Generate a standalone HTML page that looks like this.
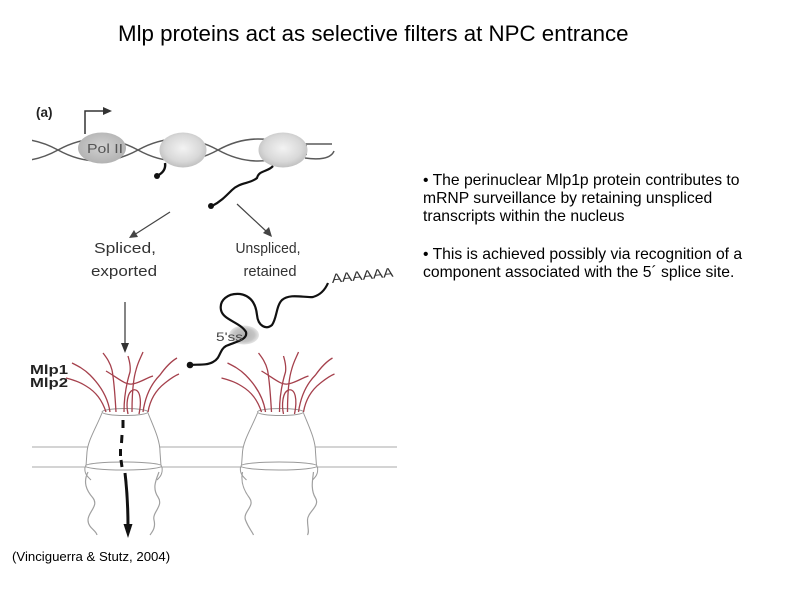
<!DOCTYPE html>
<html>
<head>
<meta charset="utf-8">
<style>
  html,body{margin:0;padding:0;background:#fff;}
  body{width:800px;height:600px;overflow:hidden;}
  svg{display:block;}
  text{font-family:"Liberation Sans", Arial, sans-serif;}
</style>
</head>
<body>
<svg width="800" height="600" viewBox="0 0 800 600" xmlns="http://www.w3.org/2000/svg">
  <defs>
    <radialGradient id="nuc" cx="50%" cy="45%" r="55%">
      <stop offset="0%" stop-color="#f3f3f3"/>
      <stop offset="70%" stop-color="#d8d8d8"/>
      <stop offset="100%" stop-color="#c0c0c0"/>
    </radialGradient>
    <radialGradient id="pol" cx="50%" cy="45%" r="55%">
      <stop offset="0%" stop-color="#d2d2d2"/>
      <stop offset="100%" stop-color="#b2b2b2"/>
    </radialGradient>
    <radialGradient id="blob" cx="50%" cy="50%" r="50%">
      <stop offset="0%" stop-color="#b0b0b0"/>
      <stop offset="70%" stop-color="#c4c4c4"/>
      <stop offset="100%" stop-color="#e6e6e6"/>
    </radialGradient>
    <clipPath id="dnaclip"><rect x="32" y="120" width="275" height="60"/></clipPath>
  </defs>

  <!-- Title -->
  <text x="118" y="41" font-size="22.3" fill="#000">Mlp proteins act as selective filters at NPC entrance</text>

  <!-- Bullet text -->
  <g font-size="15.7" fill="#000">
    <text x="423" y="185">• The perinuclear Mlp1p protein contributes to</text>
    <text x="423" y="203">mRNP surveillance by retaining unspliced</text>
    <text x="423" y="221">transcripts within the nucleus</text>
    <text x="423" y="259">• This is achieved possibly via recognition of a</text>
    <text x="423" y="277">component associated with the 5´ splice site.</text>
  </g>

  <!-- Citation -->
  <text x="12" y="561" font-size="13.2" fill="#000">(Vinciguerra &amp; Stutz, 2004)</text>

  <!-- (a) -->
  <text x="36" y="117" font-size="13.5" font-weight="bold" fill="#222">(a)</text>

  <!-- DNA double helix -->
  <g clip-path="url(#dnaclip)" fill="none" stroke="#5a5a5a" stroke-width="1.5">
    <path d="M-22,150 Q18,128 58,150 Q98,172 138,150 Q178,128 218,150 Q258,172 298,150 Q338,128 378,150"/>
    <path d="M-22,150 Q18,172 58,150 Q98,128 138,150 Q178,172 218,150 Q258,128 298,150 Q338,172 378,150"/>
  </g>
  <g fill="none" stroke="#5a5a5a" stroke-width="1.5">
    <path d="M305,144 L332,144"/>
    <path d="M305,158 C318,160 331,159 334,151"/>
  </g>

  <!-- Transcription start arrow -->
  <path d="M85,134 V111 H104" fill="none" stroke="#333" stroke-width="1.5"/>
  <polygon points="103,107 112,111 103,115" fill="#333"/>

  <!-- Pol II and nucleosomes -->
  <ellipse cx="102" cy="148" rx="24" ry="15.5" fill="url(#pol)"/>
  <text x="87" y="153" font-size="13" fill="#555" textLength="36" lengthAdjust="spacingAndGlyphs">Pol II</text>
  <ellipse cx="183" cy="150" rx="23.5" ry="17.5" fill="url(#nuc)"/>
  <ellipse cx="283" cy="150" rx="24.5" ry="17.5" fill="url(#nuc)"/>

  <!-- nascent RNAs -->
  <path d="M165,163 C166,169 163,173 157,176" fill="none" stroke="#111" stroke-width="2.4"/>
  <circle cx="157" cy="176" r="3" fill="#111"/>
  <path d="M273,166 C268,172 259,170 257,178 C250,184 240,182 232,190 C225,197 220,202 212,206" fill="none" stroke="#111" stroke-width="2.2"/>
  <circle cx="211" cy="206" r="3" fill="#111"/>

  <!-- diagonal arrows -->
  <line x1="170" y1="212" x2="134" y2="235" stroke="#444" stroke-width="1.2"/>
  <polygon points="129,238 134,230 138,237" fill="#444"/>
  <line x1="237" y1="204" x2="267" y2="232" stroke="#444" stroke-width="1.2"/>
  <polygon points="272,237 263,233 269,227" fill="#444"/>

  <!-- Labels -->
  <g font-size="15" fill="#333" text-anchor="middle">
    <text x="125" y="253" textLength="62" lengthAdjust="spacingAndGlyphs">Spliced,</text>
    <text x="124" y="276" textLength="66" lengthAdjust="spacingAndGlyphs">exported</text>
    <text x="268" y="253" textLength="65" lengthAdjust="spacingAndGlyphs">Unspliced,</text>
    <text x="270" y="276" textLength="53" lengthAdjust="spacingAndGlyphs">retained</text>
  </g>

  <!-- AAAAAA -->
  <text x="332" y="283" font-size="13" fill="#333" textLength="62" lengthAdjust="spacingAndGlyphs" transform="rotate(-6 332 283)">AAAAAA</text>

  <!-- 5'ss blob and unspliced RNA -->
  <ellipse cx="244" cy="335" rx="15" ry="9.5" fill="url(#blob)"/>
  <path d="M328,283 C325,290 320,295 313,297 C305,298 290,293 282,300 C276,306 277,318 272,325 C266,330 258,326 257,315 C256,305 252,296 240,294 C228,293 219,300 221,310 C223,320 240,322 246,332 C248,340 235,342 226,346 C219,350 221,358 213,362 C206,366 196,364 190,365" fill="none" stroke="#111" stroke-width="2.2"/>
  <circle cx="190" cy="365" r="3.3" fill="#111"/>
  <text x="216" y="341" font-size="12" fill="#444" textLength="27" lengthAdjust="spacingAndGlyphs">5'ss</text>

  <!-- vertical arrow -->
  <line x1="125" y1="302" x2="125" y2="345" stroke="#333" stroke-width="1.2"/>
  <polygon points="121,343 129,343 125,353" fill="#333"/>

  <!-- Mlp labels -->
  <text x="30" y="374" font-size="12.5" font-weight="bold" fill="#222" textLength="38" lengthAdjust="spacingAndGlyphs">Mlp1</text>
  <text x="30" y="387" font-size="12.5" font-weight="bold" fill="#222" textLength="38" lengthAdjust="spacingAndGlyphs">Mlp2</text>

  <!-- Membrane lines -->
  <line x1="32" y1="447" x2="397" y2="447" stroke="#a8a8a8" stroke-width="1"/>
  <line x1="32" y1="467" x2="397" y2="467" stroke="#a8a8a8" stroke-width="1"/>

  <!-- NPC (left) -->
  <g>
    <path d="M102,413 C96,428 88,440 87,452 L86,466 L161,466 L160,452 C160,440 154,428 148,413 Z" fill="#fff" stroke="none"/>
    <path d="M102,413 C96,428 88,440 87,452 L86,466" fill="none" stroke="#999" stroke-width="1"/>
    <path d="M148,413 C154,428 160,440 160,452 L161,466" fill="none" stroke="#999" stroke-width="1"/>
    <ellipse cx="125" cy="412" rx="23" ry="3.5" fill="#fff" stroke="#999" stroke-width="1"/>
    <ellipse cx="123.5" cy="466" rx="38" ry="4" fill="#fff" stroke="#999" stroke-width="1"/>
    <path d="M85,467 C84,474 88,477 91,480" fill="none" stroke="#999" stroke-width="1"/>
    <path d="M162,467 C163,474 160,477 157,480" fill="none" stroke="#999" stroke-width="1"/>
    <path d="M88,472 C83,482 86,490 93,498 C99,506 88,512 88,520 C88,528 96,530 97,535" fill="none" stroke="#a0a0a0" stroke-width="1.2"/>
    <path d="M159,472 C156,480 152,488 158,497 C164,506 152,512 154,520 C156,528 152,532 150,535" fill="none" stroke="#a0a0a0" stroke-width="1.2"/>
    <g fill="none" stroke="#a5404c" stroke-width="1.3">
      <path d="M110,412 C108,398 100,385 90,375 C84,369 78,366 72,363"/>
      <path d="M106,412 C102,400 96,392 86,386 C80,382 74,380 66,378"/>
      <path d="M116,412 C115,395 114,380 112,370 C110,362 106,357 103,353"/>
      <path d="M124,412 C124,400 126,385 130,372 C131,365 129,360 128,356"/>
      <path d="M132,412 C132,395 133,380 136,370 C138,362 141,357 143,352"/>
      <path d="M128,414 C126,405 127,392 133,390 C140,388 142,400 139,414"/>
      <path d="M143,412 C145,398 150,385 160,375 C165,368 170,362 177,358"/>
      <path d="M148,412 C150,400 156,390 165,383 C170,379 174,376 179,374"/>
      <path d="M106,371 C118,378 125,385 132,384 C140,383 146,378 153,376"/>
    </g>
  </g>
  <!-- NPC (right) -->
  <g transform="translate(155.5,0)">
    <path d="M102,413 C96,428 88,440 87,452 L86,466 L161,466 L160,452 C160,440 154,428 148,413 Z" fill="#fff" stroke="none"/>
    <path d="M102,413 C96,428 88,440 87,452 L86,466" fill="none" stroke="#999" stroke-width="1"/>
    <path d="M148,413 C154,428 160,440 160,452 L161,466" fill="none" stroke="#999" stroke-width="1"/>
    <ellipse cx="125" cy="412" rx="23" ry="3.5" fill="#fff" stroke="#999" stroke-width="1"/>
    <ellipse cx="123.5" cy="466" rx="38" ry="4" fill="#fff" stroke="#999" stroke-width="1"/>
    <path d="M85,467 C84,474 88,477 91,480" fill="none" stroke="#999" stroke-width="1"/>
    <path d="M162,467 C163,474 160,477 157,480" fill="none" stroke="#999" stroke-width="1"/>
    <path d="M87,472 C85,482 88,490 94,498 C100,506 87,512 90,520 C93,528 97,532 98,535" fill="none" stroke="#a0a0a0" stroke-width="1.2"/>
    <path d="M158,472 C157,480 155,490 160,498 C165,506 152,512 152,520 C152,528 154,532 152,535" fill="none" stroke="#a0a0a0" stroke-width="1.2"/>
    <g fill="none" stroke="#a5404c" stroke-width="1.3">
      <path d="M110,412 C108,398 100,385 90,375 C84,369 78,366 72,363"/>
      <path d="M106,412 C102,400 96,392 86,386 C80,382 74,380 66,378"/>
      <path d="M116,412 C115,395 114,380 112,370 C110,362 106,357 103,353"/>
      <path d="M124,412 C124,400 126,385 130,372 C131,365 129,360 128,356"/>
      <path d="M132,412 C132,395 133,380 136,370 C138,362 141,357 143,352"/>
      <path d="M128,414 C126,405 127,392 133,390 C140,388 142,400 139,414"/>
      <path d="M143,412 C145,398 150,385 160,375 C165,368 170,362 177,358"/>
      <path d="M148,412 C150,400 156,390 165,383 C170,379 174,376 179,374"/>
      <path d="M106,371 C118,378 125,385 132,384 C140,383 146,378 153,376"/>
    </g>
  </g>

  <!-- export arrow through left NPC -->
  <g stroke="#111" stroke-width="3" stroke-linecap="butt" fill="none">
    <line x1="123" y1="420" x2="123" y2="428"/>
    <line x1="122" y1="435" x2="121.5" y2="443"/>
    <line x1="120.5" y1="449" x2="120.5" y2="456"/>
    <line x1="121" y1="460" x2="122" y2="467"/>
    <path d="M125,473 C127,490 128,508 128,527"/>
  </g>
  <polygon points="123.5,524 132.5,524 128,538" fill="#111"/>
</svg>
</body>
</html>
